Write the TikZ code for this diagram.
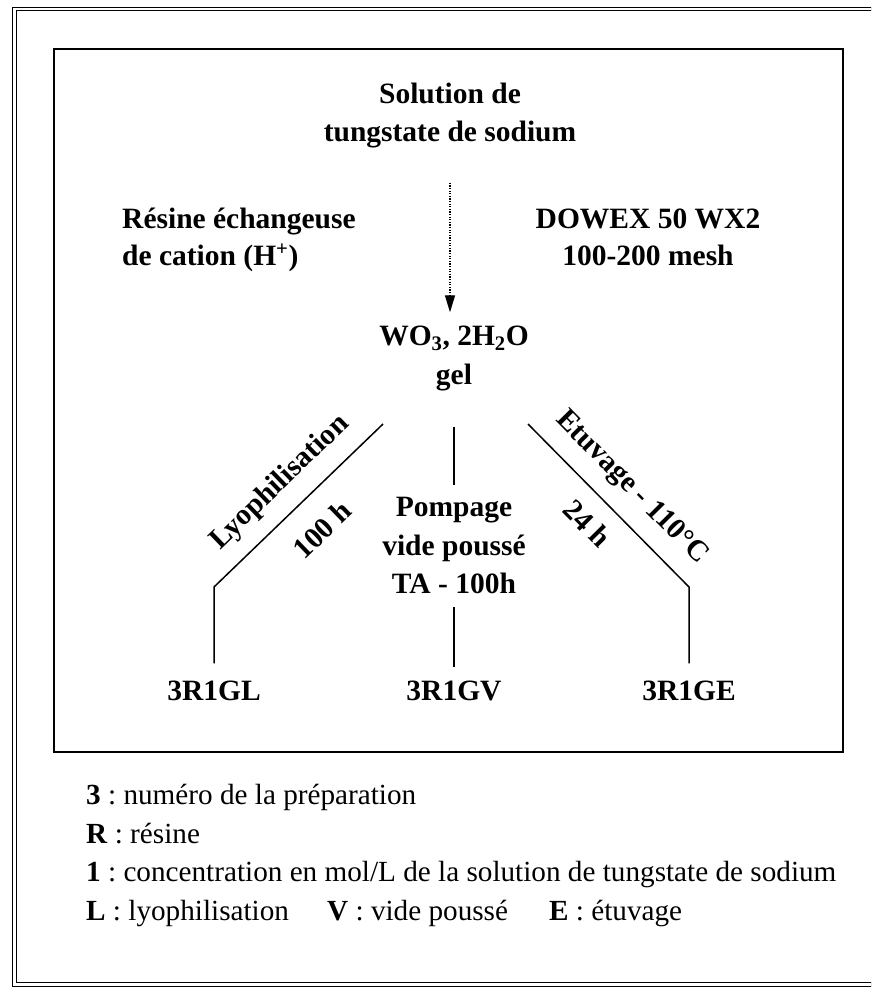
\documentclass[tikz,border=0pt]{standalone}
\usepackage{fontspec}
\setmainfont{Liberation Serif}
\usetikzlibrary{arrows.meta}
\frenchspacing

\begin{document}
\begin{tikzpicture}[x=1pt,y=-1pt]
\tikzstyle{every node}=[inner sep=0pt,anchor=base]
\tikzstyle{lbl}=[font=\fontsize{29.5}{38}\selectfont\bfseries]
\tikzstyle{leg}=[font=\fontsize{29.2}{39}\selectfont,anchor=base west]
\tikzstyle{branch}=[line width=1.5pt]

\useasboundingbox (0,0) rectangle (871,988);
\clip (0,0) rectangle (871,988);
\fill[white] (0,0) rectangle (871,988);

% frames
\draw[line width=1.2pt,double,double distance=2.2pt] (14.5,9) rectangle (890,984.5);
\draw[line width=1.5pt] (54,49) rectangle (843,752);

\node[lbl](s1) at (450,103) {Solution de};
\node[lbl](s2) at (450,141) {tungstate de sodium};
\node[lbl,anchor=base west](r1) at (122,228) {Résine échangeuse};
\node[lbl,anchor=base west](r2) at (122,265) {de cation (H\textsuperscript{+})};
\node[lbl](d1) at (648,228) {DOWEX 50 WX2};
\node[lbl](d2) at (648,265) {100-200 mesh};

\node[lbl](w1) at (454,345) {WO\textsubscript{3}, 2H\textsubscript{2}O};
\node[lbl](w2) at (454,384) {gel};
\draw[line width=1.3pt,dash pattern=on 1.3pt off 1.3pt,-{Triangle[length=17pt,width=10pt]},shorten <=35pt,shorten >=13pt] (s2.south) -- (s2.south |- w1.north);

% three treatments
\node[lbl](p1) at (454,516) {Pompage};
\node[lbl](p2) at (454,555) {vide poussé};
\node[lbl](p3) at (454,593) {TA - 100h};

\node[lbl](gl) at (214,700) {3R1GL};
\node[lbl](gv) at (454,700) {3R1GV};
\node[lbl](ge) at (689,700) {3R1GE};

\draw[branch,shorten <=36pt,shorten >=11pt] (w2.south) -- (p1.north);
\draw[branch,shorten <=14pt,shorten >=13pt] (p3.south) -- (gv.north);

\coordinate (ltop) at (383,424);
\coordinate (lbend) at (214,587);
\draw[branch] (ltop) -- (lbend) -- ([yshift=17pt]gl.north);
\path (lbend) -- (ltop) node[lbl,sloped,pos=0.51,yshift=22pt]{Lyophilisation}
  node[lbl,sloped,pos=0.5,yshift=-44pt]{100 h};

\coordinate (rtop) at (528,424);
\coordinate (rbend) at (689,587);
\draw[branch] (rtop) -- (rbend) -- ([yshift=17pt]ge.north);
\path (rtop) -- (rbend) node[lbl,sloped,pos=0.515,yshift=22pt]{Etuvage - 110°C}
  node[lbl,sloped,pos=0.49,yshift=-38pt]{24 h};

% legend
\node[leg](k1) at (86,804) {\textbf{3} : numéro de la préparation};
\node[leg](k2) at (86,843) {\textbf{R} : résine};
\node[leg](k3) at (86,881.5) {\textbf{1} : concentration en mol/L de la solution de tungstate de sodium};
\node[leg](k4) at (86,920) {\textbf{L} : lyophilisation};
\node[leg](k5) at (327,920) {\textbf{V} : vide poussé};
\node[leg](k6) at (549,920) {\textbf{E} : étuvage};
\end{tikzpicture}
\end{document}
